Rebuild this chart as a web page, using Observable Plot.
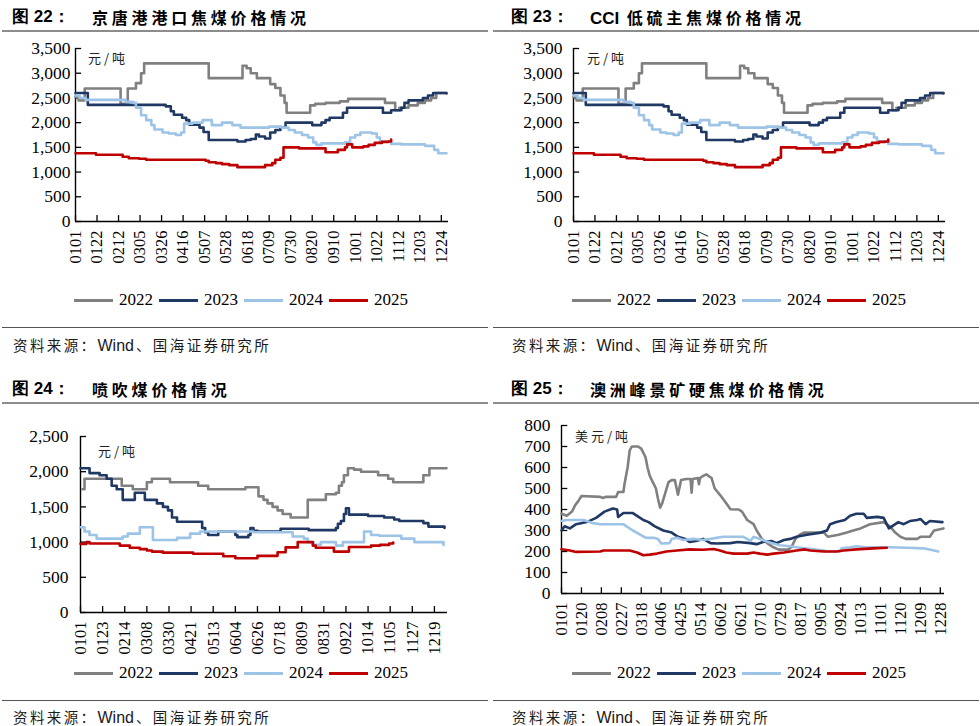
<!DOCTYPE html>
<html><head><meta charset="utf-8">
<script src="https://cdn.jsdelivr.net/npm/d3@7"></script>
<script src="https://cdn.jsdelivr.net/npm/@observablehq/plot@0.6"></script>
<style>
body{margin:0;background:#fff;}
#page{position:relative;width:980px;height:726px;overflow:hidden;background:#fff;}
.abs{position:absolute;white-space:nowrap;}
.tnum{font-family:"Liberation Sans",Arial,sans-serif;font-weight:bold;font-size:17px;color:#000;}
.tcn{font-family:"Noto Sans CJK SC",sans-serif;font-weight:700;font-size:16px;letter-spacing:3.8px;color:#000;}
.rule{position:absolute;height:0;}
.src{font-family:"Noto Sans CJK SC",sans-serif;font-size:14.5px;line-height:18px;letter-spacing:2.4px;color:#1a1a1a;}
.src .w{font-family:"Liberation Sans",Arial,sans-serif;font-size:16px;letter-spacing:0;margin-right:2px;}
.unit{font-family:"Noto Sans CJK SC",sans-serif;font-size:13px;letter-spacing:3px;color:#222;}
.legend{position:absolute;display:flex;align-items:center;font-family:"Liberation Serif",serif;font-size:17px;color:#000;}
.legend .sw{display:inline-block;width:39px;height:3px;margin-right:6px;}
.legend .lb{margin-right:6px;}
.chart{position:absolute;}
</style></head>
<body><div id="page"></div>
<script>
// ---------- tick labels (MMDD) ----------
const ticksA = ["0101","0122","0212","0305","0326","0416","0507","0528","0618","0709","0730","0820","0910","1001","1022","1112","1203","1224"];
const ticksB = ["0101","0123","0214","0308","0330","0421","0513","0604","0626","0718","0809","0831","0922","1014","1105","1127","1219"];
const ticksC = ["0101","0120","0208","0227","0318","0406","0425","0514","0602","0621","0710","0729","0817","0905","0924","1013","1101","1120","1209","1228"];
const years = ["2022","2023","2024","2025"];
const colors = ["#808080","#1f3864","#9dc3e6","#c00000"];
const yTicksA = [0,500,1000,1500,2000,2500,3000,3500];
const yTicksB = [0,500,1000,1500,2000,2500];
const yTicksC = [0,100,200,300,400,500,600,700,800];

// ---------- data: [day of year, price] ----------
// 京唐港 / CCI 低硫主焦煤 (元/吨)
const coke2022 = [[0,2520],[3,2450],[9,2690],[44,2380],[51,2690],[59,2800],[64,3000],[67,3200],[130,2900],[163,3150],[167,3100],[171,3000],[177,2900],[190,2780],[195,2700],[200,2550],[204,2400],[206,2200],[229,2350],[234,2380],[244,2400],[258,2430],[266,2480],[302,2400],[312,2250],[316,2300],[325,2350],[334,2400],[341,2450],[347,2500],[352,2600],[362,2600]];
const coke2023 = [[0,2600],[12,2360],[88,2330],[93,2230],[96,2160],[104,2100],[108,2050],[111,1960],[121,1900],[125,1810],[130,1650],[158,1620],[166,1650],[171,1670],[176,1760],[179,1720],[185,1680],[190,1800],[195,1850],[200,1900],[205,2000],[231,1950],[240,2000],[244,2050],[248,2100],[261,2200],[265,2300],[300,2200],[308,2250],[318,2300],[321,2400],[325,2450],[339,2500],[344,2550],[349,2600],[362,2590]];
const coke2024 = [[0,2550],[4,2500],[10,2460],[49,2420],[56,2400],[59,2300],[64,2150],[69,2050],[74,1950],[77,1860],[85,1800],[91,1780],[98,1750],[103,1800],[106,1980],[114,2000],[124,2050],[133,1950],[143,2000],[153,1950],[161,1900],[189,1920],[201,1900],[208,1850],[214,1800],[221,1750],[227,1700],[232,1600],[235,1550],[240,1580],[263,1600],[268,1700],[273,1750],[278,1800],[289,1780],[294,1700],[297,1620],[308,1570],[318,1560],[341,1530],[350,1450],[354,1380],[362,1380]];
const coke2025 = [[0,1380],[20,1350],[46,1310],[52,1280],[62,1270],[69,1250],[127,1230],[130,1200],[137,1180],[143,1160],[150,1140],[158,1100],[182,1100],[185,1140],[192,1180],[195,1250],[200,1290],[203,1500],[218,1480],[244,1400],[256,1450],[263,1500],[265,1560],[270,1500],[281,1520],[286,1550],[292,1590],[299,1610],[305,1620],[308,1660]];
// 喷吹煤 (元/吨)
const pci2022 = [[2,1750],[4,1900],[41,1800],[52,1750],[66,1850],[71,1900],[89,1850],[117,1800],[127,1750],[164,1780],[177,1650],[182,1600],[186,1550],[191,1500],[196,1450],[201,1400],[209,1350],[226,1600],[244,1680],[254,1700],[257,1800],[260,1850],[262,1950],[266,2050],[272,2030],[279,2000],[296,1950],[306,1900],[311,1850],[341,1950],[347,2050],[364,2050]];
const pci2023 = [[0,2050],[9,1980],[19,1950],[26,1900],[31,1800],[36,1750],[42,1600],[54,1700],[64,1600],[76,1550],[82,1500],[87,1450],[91,1350],[96,1290],[121,1200],[124,1140],[127,1100],[137,1150],[154,1100],[156,1070],[167,1100],[169,1200],[172,1160],[176,1150],[199,1190],[227,1170],[254,1200],[256,1260],[259,1300],[262,1400],[264,1480],[267,1390],[286,1370],[302,1350],[312,1320],[317,1300],[341,1270],[346,1220],[362,1200]];
const pci2024 = [[0,1210],[4,1150],[9,1100],[16,1050],[42,1080],[47,1120],[59,1210],[72,1030],[96,1060],[109,1120],[119,1150],[172,1140],[211,1080],[222,1050],[226,1000],[232,960],[239,1000],[254,950],[261,1000],[282,1150],[289,1100],[297,1090],[319,1050],[332,1000],[361,960]];
const pci2025 = [[0,975],[6,1000],[9,980],[39,950],[49,920],[59,900],[66,880],[71,865],[82,850],[112,835],[142,800],[154,770],[176,805],[196,855],[204,925],[216,1000],[231,950],[234,920],[252,865],[267,930],[289,950],[298,960],[307,980],[311,995]];
// 澳洲峰景矿硬焦煤 (美元/吨)
const pk2022 = [[0,380],[5,370],[10,390],[13,420],[16,440],[19,464],[37,460],[40,455],[42,460],[52,460],[54,483],[59,483],[60,520],[63,600],[65,681],[67,700],[73,700],[76,690],[80,650],[82,600],[84,562],[87,530],[90,500],[92,450],[94,409],[96,430],[99,480],[102,530],[105,540],[108,540],[111,470],[114,540],[119,545],[123,545],[124,480],[125,545],[130,550],[131,520],[132,550],[135,560],[138,567],[143,550],[146,500],[151,470],[154,450],[157,430],[161,401],[169,400],[172,390],[177,350],[183,330],[186,300],[191,260],[196,240],[202,220],[207,209],[216,209],[219,220],[223,260],[227,280],[231,290],[250,290],[254,270],[264,280],[272,290],[278,300],[285,310],[294,330],[307,340],[313,320],[318,290],[323,270],[328,260],[339,260],[342,270],[351,270],[355,300],[364,310]];
const pk2023 = [[0,300],[3,320],[8,310],[14,330],[24,340],[33,360],[41,390],[49,405],[53,400],[54,364],[59,383],[68,383],[72,370],[78,350],[83,340],[89,320],[97,300],[105,290],[111,270],[118,260],[122,245],[128,250],[135,260],[142,240],[148,238],[161,240],[168,245],[180,240],[186,235],[192,245],[200,250],[205,240],[212,255],[218,260],[224,270],[234,280],[247,290],[253,300],[256,330],[262,340],[270,350],[275,370],[281,380],[288,380],[291,360],[301,365],[307,360],[312,310],[321,340],[326,330],[332,345],[339,350],[342,355],[347,330],[351,345],[363,340]];
const pk2024 = [[0,345],[5,350],[21,350],[24,345],[30,335],[37,330],[59,330],[62,320],[68,300],[75,280],[80,266],[88,265],[92,260],[95,238],[103,240],[105,260],[110,265],[116,255],[126,260],[135,255],[142,260],[154,270],[173,270],[177,260],[180,250],[183,270],[189,260],[194,250],[200,240],[208,230],[218,225],[224,220],[232,215],[240,210],[250,205],[253,200],[265,200],[267,215],[275,220],[281,225],[290,220],[313,220],[329,218],[345,215],[355,205],[359,200]];
const pk2025 = [[0,211],[8,205],[14,198],[37,200],[40,205],[65,205],[72,195],[78,182],[84,185],[91,190],[100,200],[110,205],[122,210],[135,208],[145,212],[151,205],[157,195],[164,190],[177,190],[183,195],[189,190],[196,185],[202,190],[212,195],[218,200],[224,205],[232,210],[237,205],[250,200],[262,200],[269,205],[281,210],[297,215],[310,218]];

// ---------- helpers ----------
const page = document.getElementById("page");
const base = new Date(2021, 0, 1);
const dayOf = s => d3.timeDay.count(base, new Date(2021, +s.slice(0,2) - 1, +s.slice(2)));
const SERIF = "Liberation Serif";

function add(html, cls, left, top) {
  const el = document.createElement("div");
  el.className = "abs " + cls;
  el.style.left = left + "px"; el.style.top = top + "px";
  el.innerHTML = html;
  page.appendChild(el);
  return el;
}
function rule(left, top, width, color, w) {
  const el = document.createElement("div");
  el.className = "rule";
  el.style.left = left + "px"; el.style.top = top + "px"; el.style.width = width + "px";
  el.style.borderTop = w + "px solid " + color;
  page.appendChild(el);
}
function legend(left, top) {
  const el = document.createElement("div");
  el.className = "legend";
  el.style.left = left + "px"; el.style.top = top + "px";
  el.innerHTML = years.map((y, i) =>
    `<span class="sw" style="background:${colors[i]}"></span><span class="lb">${y}</span>`).join("");
  page.appendChild(el);
}

function chart(o) {
  const tickDays = o.ticks.map(dayOf);
  const labelOf = new Map(o.ticks.map(t => [dayOf(t), t]));
  const marks = [
    Plot.axisY(o.yTicks, {tickSize: 0, tickPadding: o.yPad, tickFormat: d3.format(","), fontSize: 17.5, fontFamily: SERIF}),
    Plot.axisX(tickDays, {tickSize: 0, tickPadding: 9, tickRotate: -90, tickFormat: d => labelOf.get(d), fontSize: 16.5, fontFamily: SERIF}),
    Plot.ruleY(o.yTicks, {x1: 0, x2: 6, stroke: "#000", strokeWidth: 1.3}),
    Plot.ruleX(tickDays, {y1: 0, y2: o.yMax * 0.034, stroke: "#000", strokeWidth: 1.3}),
    Plot.ruleX([0], {y1: 0, y2: o.yMax, stroke: "#000", strokeWidth: 1.4}),
    Plot.ruleY([0], {x1: 0, x2: o.xEnd, stroke: "#000", strokeWidth: 1.4})
  ];
  o.series.forEach((s, i) => {
    marks.push(Plot.line(s, {x: d => d[0], y: d => d[1], stroke: colors[i], strokeWidth: 2.6, curve: o.curve, strokeLinejoin: "round"}));
  });
  const svg = Plot.plot({
    width: o.width, height: o.height,
    marginLeft: o.ml, marginRight: o.mr, marginTop: o.mt, marginBottom: o.mb,
    x: {domain: [0, o.xEnd], axis: null},
    y: {domain: [0, o.yMax], axis: null},
    style: "font-family: 'Liberation Serif', serif; color: #000; background: transparent; overflow: visible;",
    marks
  });
  svg.setAttribute("font-family", "Liberation Serif, serif");
  svg.querySelectorAll("text, g").forEach(t => {
    if (t.hasAttribute("font-family")) t.setAttribute("font-family", "Liberation Serif, serif");
    if (t.tagName.toLowerCase() === "text") t.style.fontFamily = "'Liberation Serif', serif";
  });
  const wrap = document.createElement("div");
  wrap.className = "chart";
  wrap.style.left = o.left + "px"; wrap.style.top = o.top + "px";
  wrap.appendChild(svg);
  page.appendChild(wrap);
}

// ---------- titles ----------
add("图 22：", "tnum", 12, 5);
add("京唐港港口焦煤价格情况", "tcn", 92, 5);
add("图 23：", "tnum", 511, 5);
add("<span style='font-family:Liberation Sans;font-weight:bold;font-size:17px;letter-spacing:0'>CCI</span> 低硫主焦煤价格情况", "tcn", 590, 5);
add("图 24：", "tnum", 12, 377);
add("喷吹煤价格情况", "tcn", 92, 377);
add("图 25：", "tnum", 511, 377);
add("澳洲峰景矿硬焦煤价格情况", "tcn", 590, 377);
rule(2, 30, 486, "#8c8c8c", 2);
rule(493, 30, 486, "#8c8c8c", 2);
rule(2, 402, 486, "#8c8c8c", 2);
rule(493, 402, 486, "#8c8c8c", 2);

// ---------- charts ----------
chart({left: 0, top: 30, width: 480, height: 245, ml: 75, mr: 32, mt: 18, mb: 54, yPad: 5,
  xEnd: 364, yMax: 3500, yTicks: yTicksA, ticks: ticksA, curve: "step-after",
  series: [coke2022, coke2023, coke2024, coke2025]});
chart({left: 490, top: 30, width: 480, height: 245, ml: 83, mr: 25, mt: 18, mb: 54, yPad: 11,
  xEnd: 364, yMax: 3500, yTicks: yTicksA, ticks: ticksA, curve: "step-after",
  series: [coke2022, coke2023, coke2024, coke2025]});
chart({left: 0, top: 410, width: 480, height: 250, ml: 80, mr: 33, mt: 26, mb: 48, yPad: 12,
  xEnd: 365, yMax: 2500, yTicks: yTicksB, ticks: ticksB, curve: "step-after",
  series: [pci2022, pci2023, pci2024, pci2025]});
chart({left: 490, top: 410, width: 480, height: 250, ml: 71, mr: 26, mt: 15, mb: 67, yPad: 11,
  xEnd: 365, yMax: 800, yTicks: yTicksC, ticks: ticksC, curve: "linear",
  series: [pk2022, pk2023, pk2024, pk2025]});

// ---------- units ----------
add("元/吨", "unit", 88, 48);
add("元/吨", "unit", 587, 48);
add("元/吨", "unit", 98, 441);
add("美元/吨", "unit", 575, 426);

// ---------- legends ----------
legend(74, 290);
legend(572, 290);
legend(74, 663);
legend(572, 663);

// ---------- sources ----------
const srcText = "资料来源：<span class='w'>Wind</span>、国海证券研究所";
rule(2, 327, 486, "#555", 1.5);
rule(493, 327, 486, "#555", 1.5);
rule(2, 700, 486, "#555", 1.5);
rule(493, 700, 486, "#555", 1.5);
add(srcText, "src", 13, 336);
add(srcText, "src", 512, 336);
add(srcText, "src", 13, 708);
add(srcText, "src", 512, 708);
</script></body></html>
